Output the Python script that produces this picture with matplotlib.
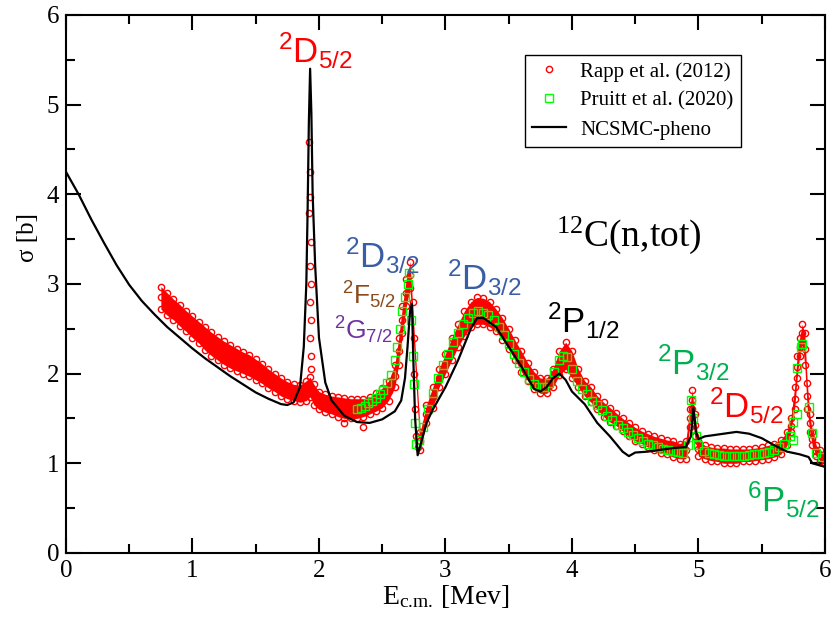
import matplotlib
matplotlib.use("Agg")
import matplotlib.pyplot as plt
from matplotlib.ticker import MultipleLocator
from matplotlib.lines import Line2D

plt.rcParams['mathtext.default'] = 'regular'
plt.rcParams['mathtext.fontset'] = 'custom'
plt.rcParams['mathtext.rm'] = 'Liberation Serif'

# ---------------- data ----------------
# NCSMC-pheno curve
ncsmc_x = [0, 0.1, 0.2, 0.3, 0.4, 0.5, 0.6, 0.7, 0.8, 0.9, 1.0, 1.1, 1.2, 1.3, 1.4, 1.5,
           1.6, 1.7, 1.75, 1.8, 1.85, 1.88, 1.9, 1.91, 1.92, 1.93, 1.94, 1.95, 1.97, 2.0,
           2.05, 2.1, 2.2, 2.3, 2.4, 2.5, 2.6, 2.65, 2.68, 2.7, 2.72, 2.735, 2.745, 2.76,
           2.78, 2.85, 2.9, 3.0, 3.1, 3.2, 3.25, 3.3, 3.4, 3.5, 3.6, 3.7, 3.75, 3.8, 3.85,
           3.9, 3.95, 4.0, 4.1, 4.2, 4.3, 4.4, 4.45, 4.5, 4.6, 4.7, 4.8, 4.9, 4.94, 4.96,
           4.98, 5.0, 5.05, 5.1, 5.2, 5.3, 5.4, 5.5, 5.6, 5.7, 5.8, 5.87, 5.9, 5.95, 6.0]
ncsmc_y = [4.25, 4.0, 3.72, 3.46, 3.21, 2.99, 2.81, 2.66, 2.52, 2.4, 2.28, 2.17, 2.07, 1.97, 1.88, 1.79,
           1.72, 1.66, 1.65, 1.68, 1.85, 2.3, 3.0, 3.8, 4.8, 5.4, 4.9, 4.0, 3.2, 2.4,
           1.9, 1.7, 1.53, 1.46, 1.45, 1.49, 1.58, 1.7, 1.95, 2.3, 2.7, 2.78, 2.2, 1.5,
           1.09, 1.45, 1.6, 1.85, 2.15, 2.5, 2.62, 2.62, 2.52, 2.3, 2.08, 1.83, 1.8, 1.85, 1.95,
           2.0, 1.93, 1.8, 1.66, 1.45, 1.3, 1.13, 1.08, 1.12, 1.13, 1.15, 1.17, 1.18, 1.3, 1.62,
           1.35, 1.27, 1.3, 1.31, 1.33, 1.35, 1.33, 1.28, 1.2, 1.13, 1.1, 1.07, 1.0, 0.98, 0.96]

# Rapp et al. (2012): band read as upper / middle / lower edges
rapp_x = [0.75, 0.8, 0.85, 0.9, 0.95, 1.0, 1.05, 1.1, 1.15, 1.2, 1.25, 1.3, 1.35, 1.4, 1.45,
          1.5, 1.55, 1.6, 1.65, 1.7, 1.75, 1.8, 1.85, 1.9, 1.93, 1.96, 2.0, 2.05, 2.1, 2.15,
          2.2, 2.25, 2.3, 2.35, 2.4, 2.45, 2.5, 2.55, 2.6, 2.63, 2.66, 2.69, 2.72, 2.8, 2.85,
          2.9, 2.95, 3.0, 3.05, 3.1, 3.15, 3.2, 3.25, 3.3, 3.35, 3.4, 3.45, 3.5, 3.55, 3.6,
          3.65, 3.7, 3.75, 3.8, 3.85, 3.9, 3.95, 4.0, 4.05, 4.1, 4.15, 4.2, 4.25, 4.3, 4.35,
          4.4, 4.45, 4.5, 4.55, 4.6, 4.65, 4.7, 4.75, 4.8, 4.85, 4.9, 4.93, 4.95, 4.97, 5.0,
          5.05, 5.1, 5.15, 5.2, 5.25, 5.3, 5.35, 5.4, 5.45, 5.5, 5.55, 5.6, 5.65, 5.7, 5.73,
          5.76, 5.78, 5.8, 5.82, 5.84, 5.86, 5.88, 5.9, 5.93, 5.96, 6.0]
rapp_hi = [2.97, 2.9, 2.83, 2.77, 2.7, 2.64, 2.58, 2.52, 2.46, 2.41, 2.36, 2.32, 2.28, 2.24, 2.21,
           2.16, 2.11, 2.05, 2.0, 1.95, 1.91, 1.88, 1.87, 1.92, 1.96, 1.88, 1.8, 1.77, 1.75, 1.74,
           1.73, 1.72, 1.72, 1.72, 1.74, 1.78, 1.84, 1.92, 2.1, 2.4, 2.75, 3.05, 3.25, 1.35, 1.65,
           1.85, 2.05, 2.22, 2.4, 2.55, 2.7, 2.8, 2.85, 2.84, 2.8, 2.72, 2.62, 2.5, 2.37, 2.25,
           2.12, 2.02, 1.95, 1.95, 2.05, 2.25, 2.35, 2.25, 2.05, 1.92, 1.85, 1.75, 1.68, 1.62, 1.56,
           1.5, 1.45, 1.4, 1.36, 1.33, 1.3, 1.28, 1.26, 1.25, 1.22, 1.25, 1.6, 1.82, 1.55, 1.25,
           1.2, 1.18, 1.17, 1.17, 1.16, 1.16, 1.16, 1.16, 1.17, 1.18, 1.2, 1.22, 1.26, 1.35, 1.5,
           1.85, 2.2, 2.4, 2.55, 2.45, 1.9, 1.55, 1.35, 1.2, 1.15, 1.1]
rapp_mid = [2.85, 2.78, 2.71, 2.65, 2.58, 2.52, 2.46, 2.39, 2.33, 2.28, 2.23, 2.19, 2.15, 2.12, 2.09,
            2.05, 2.0, 1.95, 1.9, 1.85, 1.81, 1.79, 1.77, 1.81, 1.85, 1.77, 1.7, 1.67, 1.65, 1.63,
            1.62, 1.61, 1.61, 1.62, 1.64, 1.68, 1.73, 1.81, 1.97, 2.25, 2.6, 2.9, 3.1, 1.25, 1.55,
            1.74, 1.95, 2.11, 2.27, 2.42, 2.56, 2.66, 2.7, 2.7, 2.66, 2.6, 2.5, 2.39, 2.26, 2.14,
            2.02, 1.92, 1.86, 1.86, 1.95, 2.12, 2.2, 2.1, 1.95, 1.83, 1.76, 1.67, 1.6, 1.54, 1.49,
            1.43, 1.38, 1.33, 1.29, 1.26, 1.23, 1.2, 1.18, 1.16, 1.14, 1.15, 1.5, 1.71, 1.43, 1.16,
            1.12, 1.1, 1.1, 1.09, 1.08, 1.08, 1.09, 1.09, 1.1, 1.11, 1.12, 1.14, 1.18, 1.27, 1.42,
            1.72, 2.07, 2.3, 2.45, 2.28, 1.75, 1.45, 1.27, 1.14, 1.09, 1.05]
rapp_lo = [2.72, 2.65, 2.6, 2.53, 2.47, 2.4, 2.34, 2.26, 2.2, 2.15, 2.1, 2.06, 2.03, 2.0, 1.97,
           1.93, 1.89, 1.84, 1.8, 1.75, 1.72, 1.7, 1.68, 1.7, 1.74, 1.65, 1.6, 1.57, 1.55, 1.52,
           1.5, 1.5, 1.5, 1.52, 1.55, 1.58, 1.62, 1.7, 1.85, 2.1, 2.45, 2.75, 2.95, 1.15, 1.45,
           1.62, 1.85, 2.0, 2.15, 2.3, 2.42, 2.52, 2.55, 2.55, 2.52, 2.47, 2.38, 2.27, 2.15, 2.02,
           1.92, 1.83, 1.78, 1.78, 1.85, 1.98, 2.05, 1.95, 1.85, 1.75, 1.68, 1.6, 1.52, 1.46, 1.42,
           1.36, 1.3, 1.25, 1.22, 1.18, 1.15, 1.12, 1.1, 1.07, 1.05, 1.05, 1.4, 1.6, 1.3, 1.08,
           1.05, 1.03, 1.02, 1.0, 1.0, 1.0, 1.02, 1.02, 1.03, 1.04, 1.05, 1.07, 1.1, 1.2, 1.35,
           1.6, 1.95, 2.2, 2.35, 2.1, 1.6, 1.35, 1.2, 1.08, 1.03, 1.0]
# Rapp points on the narrow resonances
rapp_peak_x = [1.925, 1.93, 1.93, 1.925, 1.935, 1.93, 1.935, 1.93, 1.935, 1.93, 1.935, 1.94,
               2.745, 2.75, 2.755, 2.76, 2.77, 2.78, 2.2, 2.35]
rapp_peak_y = [4.58, 4.25, 3.97, 3.79, 3.47, 3.2, 3.0, 2.8, 2.6, 2.4, 2.2, 2.05,
               2.8, 2.4, 2.0, 1.6, 1.3, 1.18, 1.45, 1.4]

# Pruitt et al. (2020)
pruitt_x = [2.30, 2.33, 2.36, 2.39, 2.42, 2.45, 2.48, 2.51, 2.54, 2.57, 2.6, 2.62, 2.64, 2.66,
            2.68, 2.7, 2.71, 2.73, 2.74, 2.75, 2.76, 2.77, 2.79, 2.82, 2.86, 2.9, 2.94, 2.98,
            3.02, 3.06, 3.1, 3.14, 3.18, 3.22, 3.26, 3.3, 3.34, 3.38, 3.42, 3.46, 3.5, 3.54,
            3.58, 3.62, 3.66, 3.7, 3.74, 3.78, 3.82, 3.86, 3.9, 3.93, 3.96, 4.0, 4.04, 4.08,
            4.12, 4.16, 4.2, 4.24, 4.28, 4.32, 4.36, 4.4, 4.44, 4.48, 4.52, 4.56, 4.6, 4.64,
            4.68, 4.72, 4.76, 4.8, 4.84, 4.88, 4.92, 4.94, 4.96, 4.98, 5.0, 5.04, 5.08, 5.12,
            5.16, 5.2, 5.24, 5.28, 5.32, 5.36, 5.4, 5.44, 5.48, 5.52, 5.56, 5.6, 5.64, 5.68,
            5.72, 5.75, 5.75, 5.78, 5.78, 5.81, 5.82, 5.87, 5.9, 5.93, 5.98]
pruitt_y = [1.6, 1.62, 1.64, 1.67, 1.7, 1.73, 1.77, 1.82, 1.9, 1.98, 2.15, 2.3, 2.5, 2.7,
            2.85, 3.0, 3.12, 2.6, 2.2, 1.88, 1.45, 1.22, 1.26, 1.4, 1.6, 1.78, 1.95, 2.1,
            2.22, 2.35, 2.45, 2.55, 2.62, 2.68, 2.7, 2.68, 2.65, 2.6, 2.52, 2.43, 2.33, 2.22,
            2.12, 2.02, 1.94, 1.88, 1.85, 1.85, 1.9, 2.02, 2.15, 2.2, 2.18, 2.05, 1.92, 1.83,
            1.77, 1.7, 1.65, 1.59, 1.53, 1.48, 1.43, 1.39, 1.35, 1.31, 1.28, 1.25, 1.22, 1.2,
            1.18, 1.16, 1.15, 1.14, 1.13, 1.12, 1.2, 1.71, 1.5, 1.3, 1.2, 1.14, 1.12, 1.1,
            1.09, 1.08, 1.08, 1.08, 1.08, 1.08, 1.09, 1.1, 1.1, 1.12, 1.13, 1.15, 1.18, 1.22,
            1.3, 1.26, 1.46, 2.06, 1.55, 2.3, 2.33, 1.63, 1.34, 1.11, 1.07]

# annotations: (text, x, y, color)
labels = [(r'$^{2}$D$_{5/2}$', 1.97, 5.46, '#ff0000'),
          (r'$^{2}$D$_{3/2}$', 2.5, 3.18, '#3a5ea5'),
          (r'$^{2}$F$_{5/2}$', 2.40, 2.77, '#8b4a1c'),
          (r'$^{2}$G$_{7/2}$', 2.35, 2.38, '#7030a0'),
          (r'$^{2}$D$_{3/2}$', 3.31, 2.93, '#3a5ea5'),
          (r'$^{2}$P$_{1/2}$', 4.09, 2.45, '#000000'),
          (r'$^{2}$P$_{3/2}$', 4.96, 1.98, '#00b050'),
          (r'$^{2}$D$_{5/2}$', 5.38, 1.50, '#ff0000'),
          (r'$^{6}$P$_{5/2}$', 5.67, 0.46, '#00b050')]
label_sizes = [25, 25, 19, 19, 25, 25, 25, 25, 25]

# ---------------- figure ----------------
fig = plt.figure(figsize=(8.35, 6.22), dpi=100)
ax = fig.add_axes([0.079, 0.111, 0.909, 0.865])

serif = 'Liberation Serif'
sans = 'Liberation Sans'

ax.fill_between(rapp_x, rapp_lo, rapp_hi, color='#ff0000', lw=0)
rk = dict(ls='none', marker='o', ms=4.5, mfc='none', mec='#ff0000', mew=1.0)
ax.plot(rapp_x, rapp_hi, **rk)
ax.plot(rapp_x, rapp_mid, **rk)
ax.plot(rapp_x, rapp_lo, **rk)
ax.plot(rapp_peak_x, rapp_peak_y, **rk)
ax.plot(pruitt_x, pruitt_y, ls='none', marker='s', ms=5.5, mfc='none', mec='#00ff00', mew=1.0)
ax.plot(ncsmc_x, ncsmc_y, color='black', lw=1.6)

ax.set_xlim(0, 6)
ax.set_ylim(0, 6)
ax.xaxis.set_major_locator(MultipleLocator(1))
ax.xaxis.set_minor_locator(MultipleLocator(0.5))
ax.yaxis.set_major_locator(MultipleLocator(1))
ax.yaxis.set_minor_locator(MultipleLocator(0.5))
ax.tick_params(which='both', direction='in', top=True, right=True, width=1.5)
ax.tick_params(which='major', length=11, pad=5, labelsize=18)
ax.tick_params(which='minor', length=6.5)
for lab in ax.get_xticklabels() + ax.get_yticklabels():
    lab.set_family(serif)
for s in ax.spines.values():
    s.set_linewidth(1.5)

ax.set_xlabel(r'E$_{\text{c.m.}}$ [Mev]', family=serif, fontsize=20, labelpad=1)
ax.set_ylabel('σ [b]', family=serif, fontsize=18)
ax.yaxis.set_label_coords(-0.036, 0.587)

ax.text(4.45, 3.43, r'$^{12}$C(n,tot)', family=serif, fontsize=27, ha='center', va='baseline')
for (t, x, y, c), fs in zip(labels, label_sizes):
    ax.text(x, y, t, family=sans, fontsize=fs, color=c, ha='center', va='baseline')

handles = [Line2D([], [], ls='none', marker='o', ms=4.5, mfc='none', mec='#ff0000', mew=1.0),
           Line2D([], [], ls='none', marker='s', ms=5.5, mfc='none', mec='#00ff00', mew=1.0),
           Line2D([], [], color='black', lw=1.6)]
leg = ax.legend(handles, ['Rapp et al. (2012)', 'Pruitt et al. (2020)', 'NCSMC-pheno'],
                loc='upper right', bbox_to_anchor=(0.889, 0.926), borderaxespad=0,
                fancybox=False, edgecolor='black', framealpha=1,
                prop={'family': serif, 'size': 15}, handlelength=1.6, labelspacing=0.45,
                borderpad=0.35, handletextpad=0.7)
leg.get_frame().set_linewidth(1.0)

fig.savefig('out.png', dpi=100)
